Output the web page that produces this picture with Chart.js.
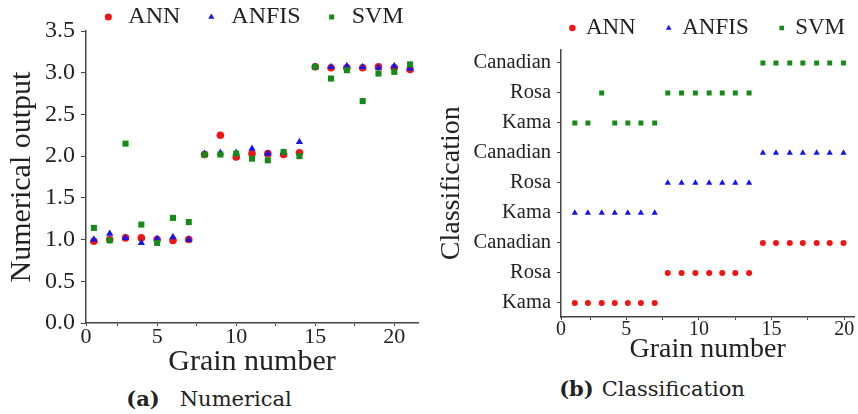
<!DOCTYPE html>
<html>
<head>
<meta charset="utf-8">
<script src="https://cdn.jsdelivr.net/npm/chart.js@4.4.1/dist/chart.umd.min.js"></script>
<style>
    html, body { margin: 0; padding: 0; background: #fff; }
    #wrap { position: relative; width: 858px; height: 414px; overflow: hidden; }
    canvas { position: absolute; top: 0; }
    #chartA { left: 0; }
    #chartB { left: 430px; }
    .caption {
        position: absolute;
        font-family: "DejaVu Serif", serif;
        font-size: 21px;
        color: #222;
        white-space: nowrap;
        transform: translate(-50%, -50%);
    }
</style>
</head>
<body>
<div id="wrap">
    <canvas id="chartA" width="430" height="377"></canvas>
    <canvas id="chartB" width="428" height="364"></canvas>
    <div class="caption" style="left:209px; top:398px;"><b style="margin-right:20px">(a)</b>Numerical</div>
    <div class="caption" style="left:652px; top:388px;"><b style="margin-right:8px">(b)</b>Classification</div>
</div>
<script>
// Grain numbers (x) for the numerical plot
const grainsA = [1, 2, 3, 4, 5, 6, 7, 8, 9, 10, 11, 12, 13, 14, 15, 16, 17, 18, 19, 20, 21];

// Numerical outputs
const annNumeric   = [0.98, 1.00, 1.02, 1.02, 1.00, 0.99, 1.00, 2.02, 2.25, 1.99, 2.03, 2.03, 2.02, 2.04, 3.07, 3.06, 3.06, 3.06, 3.07, 3.06, 3.04];
const anfisNumeric = [1.00, 1.07, 1.02, 0.96, 1.01, 1.03, 1.00, 2.03, 2.04, 2.04, 2.09, 2.03, 2.04, 2.17, 3.07, 3.07, 3.08, 3.07, 3.06, 3.08, 3.05];
const svmNumeric   = [1.14, 0.99, 2.15, 1.18, 0.96, 1.26, 1.21, 2.02, 2.02, 2.03, 1.97, 1.95, 2.05, 2.00, 3.07, 2.93, 3.03, 2.66, 2.99, 3.01, 3.10];

// Grain positions (x) as drawn in panel (b)
const grainsB = [1.45, 2.35, 3.3, 4.2, 5.1, 6.0, 6.95, 7.85, 8.8, 9.75, 10.7, 11.6, 12.5, 13.45, 14.4, 15.3, 16.25, 17.15, 18.1, 19.0, 19.95];

// Classification rows in panel (b): 1-3 ANN, 4-6 ANFIS, 7-9 SVM
const annClass   = [1, 1, 1, 1, 1, 1, 1, 2, 2, 2, 2, 2, 2, 2, 3, 3, 3, 3, 3, 3, 3];
const anfisClass = [4, 4, 4, 4, 4, 4, 4, 5, 5, 5, 5, 5, 5, 5, 6, 6, 6, 6, 6, 6, 6];
const svmClass   = [7, 7, 8, 7, 7, 7, 7, 8, 8, 8, 8, 8, 8, 8, 9, 9, 9, 9, 9, 9, 9];
const classLevels = [1, 2, 3, 4, 5, 6, 7, 8, 9];
const classLabels = ['Kama', 'Rosa', 'Canadian', 'Kama', 'Rosa', 'Canadian', 'Kama', 'Rosa', 'Canadian'];

// Axis ticks
const xTickValues = [0.5, 2.5, 5, 7.5, 10, 12.5, 15, 17.5, 20];
const xTickLabels = ['0', '', '5', '', '10', '', '15', '', '20'];

const seriesNames = ['ANN', 'ANFIS', 'SVM'];
const RED = '#f01414';
const BLUE = '#1414f0';
const GREEN = '#168a16';
const TEXT = '#222';
const AXIS = '#444';
const SERIF = '"Liberation Serif", "Times New Roman", serif';

function toPoints(xs, ys) {
    return xs.map((x, i) => ({ x: x, y: ys[i] }));
}

// SVM drawn on top, ANN underneath (legend order kept by reverse)
function makeDatasets(xs, series, radii) {
    const styles = ['circle', 'triangle', 'rect'];
    const colors = [RED, BLUE, GREEN];
    return series.map((ys, i) => ({
        label: seriesNames[i],
        data: toPoints(xs, ys),
        pointStyle: styles[i],
        pointRadius: radii[i],
        pointHoverRadius: radii[i],
        pointBorderWidth: 0,
        backgroundColor: colors[i],
        borderColor: colors[i],
        showLine: false,
        order: 3 - i
    }));
}

function legendOptions(fontSize, padding, maxHeight, boxWidth, boxHeight, gap) {
    return {
        position: 'top',
        fullSize: false,
        reverse: true,
        maxHeight: maxHeight,
        labels: {
            usePointStyle: true,
            boxWidth: boxWidth,
            boxHeight: boxHeight,
            padding: padding,
            color: TEXT,
            font: { family: SERIF, size: fontSize, lineHeight: 1 },
            generateLabels: chart => Chart.defaults.plugins.legend.labels.generateLabels(chart).map(item => {
                if (item.datasetIndex < 2) item.text += gap;
                return item;
            })
        }
    };
}

function xAxis(max, tickFont, titleFont, titlePad) {
    return {
        type: 'linear',
        min: 0.5,
        max: max,
        afterBuildTicks: axis => { axis.ticks = xTickValues.map(v => ({ value: v })); },
        ticks: {
            autoSkip: false,
            maxRotation: 0,
            padding: 0,
            color: TEXT,
            font: { family: SERIF, size: tickFont, lineHeight: 1 },
            callback: (value, index) => xTickLabels[index]
        },
        grid: { drawOnChartArea: false, drawTicks: true, tickLength: 3, color: AXIS },
        border: { color: AXIS, width: 1.5 },
        title: {
            display: true,
            text: 'Grain number',
            color: TEXT,
            font: { family: SERIF, size: titleFont, lineHeight: 1 },
            padding: { top: titlePad, bottom: 0 }
        }
    };
}

// Panel (a): numerical output
new Chart(document.getElementById('chartA'), {
    type: 'scatter',
    data: { datasets: makeDatasets(grainsA, [annNumeric, anfisNumeric, svmNumeric], [3.8, 4.2, 4.3]) },
    options: {
        responsive: false,
        animation: false,
        layout: { padding: { left: 3, right: 12, top: 0, bottom: 0 } },
        plugins: {
            legend: legendOptions(24, 5, 31, 16, 5, '   '),
            tooltip: { enabled: false }
        },
        scales: {
            x: xAxis(21.5, 22, 30, -1),
            y: {
                min: 0,
                max: 3.5,
                ticks: {
                    stepSize: 0.5,
                    padding: 6,
                    color: TEXT,
                    font: { family: SERIF, size: 24, lineHeight: 1 },
                    callback: value => value.toFixed(1)
                },
                grid: { drawOnChartArea: false, drawTicks: true, tickLength: 5, color: AXIS },
                border: { color: AXIS, width: 1.5 },
                title: {
                    display: true,
                    text: 'Numerical output',
                    color: TEXT,
                    font: { family: SERIF, size: 30, lineHeight: 1 },
                    padding: { top: 4, bottom: 2 }
                }
            }
        }
    }
});

// Panel (b): classification
new Chart(document.getElementById('chartB'), {
    type: 'scatter',
    data: { datasets: makeDatasets(grainsB, [annClass, anfisClass, svmClass], [3, 3.6, 3.5]) },
    options: {
        responsive: false,
        animation: false,
        layout: { padding: { left: 3, right: 1, top: 8.5, bottom: 0 } },
        plugins: {
            legend: legendOptions(23, 8, 41, 4, 4.6, '    '),
            tooltip: { enabled: false }
        },
        scales: {
            x: xAxis(20.7, 20, 28, -4),
            y: {
                min: 0.53,
                max: 9.45,
                afterBuildTicks: axis => { axis.ticks = classLevels.map(v => ({ value: v })); },
                ticks: {
                    padding: 6,
                    color: TEXT,
                    font: { family: SERIF, size: 20.5, lineHeight: 1 },
                    callback: (value, index) => classLabels[index]
                },
                grid: { drawOnChartArea: false, drawTicks: true, tickLength: 4, color: AXIS },
                border: { color: AXIS, width: 1.5 },
                title: {
                    display: true,
                    text: 'Classification',
                    color: TEXT,
                    font: { family: SERIF, size: 28, lineHeight: 1 },
                    padding: { top: 5, bottom: 1.6 }
                }
            }
        }
    }
});
</script>
</body>
</html>
